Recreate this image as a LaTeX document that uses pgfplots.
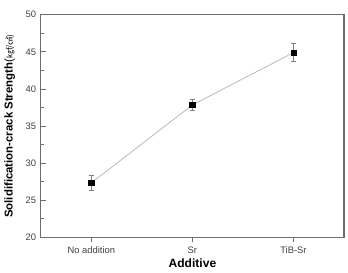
\documentclass[border=0pt]{standalone}
\usepackage{pgfplots}
\pgfplotsset{compat=1.18}
\usepackage{fontspec}
\setmainfont{Liberation Sans}
\newfontfamily\cjk{Noto Sans CJK KR}
\definecolor{axgray}{RGB}{110,110,110}
\definecolor{lngray}{RGB}{185,185,185}
\begin{document}
\begin{tikzpicture}
\begin{axis}[
  scale only axis,
  width=226pt, height=166pt,
  xmin=-0.5, xmax=2.5,
  ymin=20, ymax=50,
  xtick={0,1,2},
  xticklabels={No addition, Sr, TiB-Sr},
  ytick={20,25,30,35,40,45,50},
  minor ytick={22.5,27.5,32.5,37.5,42.5,47.5},
  axis line style={axgray, line width=0.8pt},
  tick style={axgray, line width=0.6pt},
  ytick pos=left, xtick pos=bottom,
  xtick align=outside,
  ytick align=inside,
  major tick length=3.5pt, minor tick length=2pt,
  tick label style={font=\fontsize{7}{8}\selectfont, text=black!75},
  /pgf/number format/assume math mode=true,
  xlabel={\textbf{Additive}},
  ylabel={\textbf{Solidification-crack Strength}(\cjk\fontsize{6}{7}\selectfont ㎏f/㎠)},
  xlabel style={font=\fontsize{9}{10}\selectfont, yshift=3pt},
  ylabel style={font=\fontsize{8.5}{9}\selectfont, yshift=1pt},
]
\addplot[lngray, line width=0.6pt, mark=square*, mark size=1.9pt,
  mark options={black, fill=black},
  error bars/.cd, y dir=both, y explicit,
  error bar style={gray, line width=0.4pt},
  error mark options={rotate=90, mark size=2pt, gray}]
  coordinates {
  (0,27.35) +- (0,1.0)
  (1,37.85) +- (0,0.7)
  (2,44.9) +- (0,1.2)
  };
\end{axis}
\path (current axis.north) ++(0,11pt) coordinate (topspace);
\path (current axis.east) ++(3pt,0) coordinate (rightspace);
\end{tikzpicture}
\end{document}
